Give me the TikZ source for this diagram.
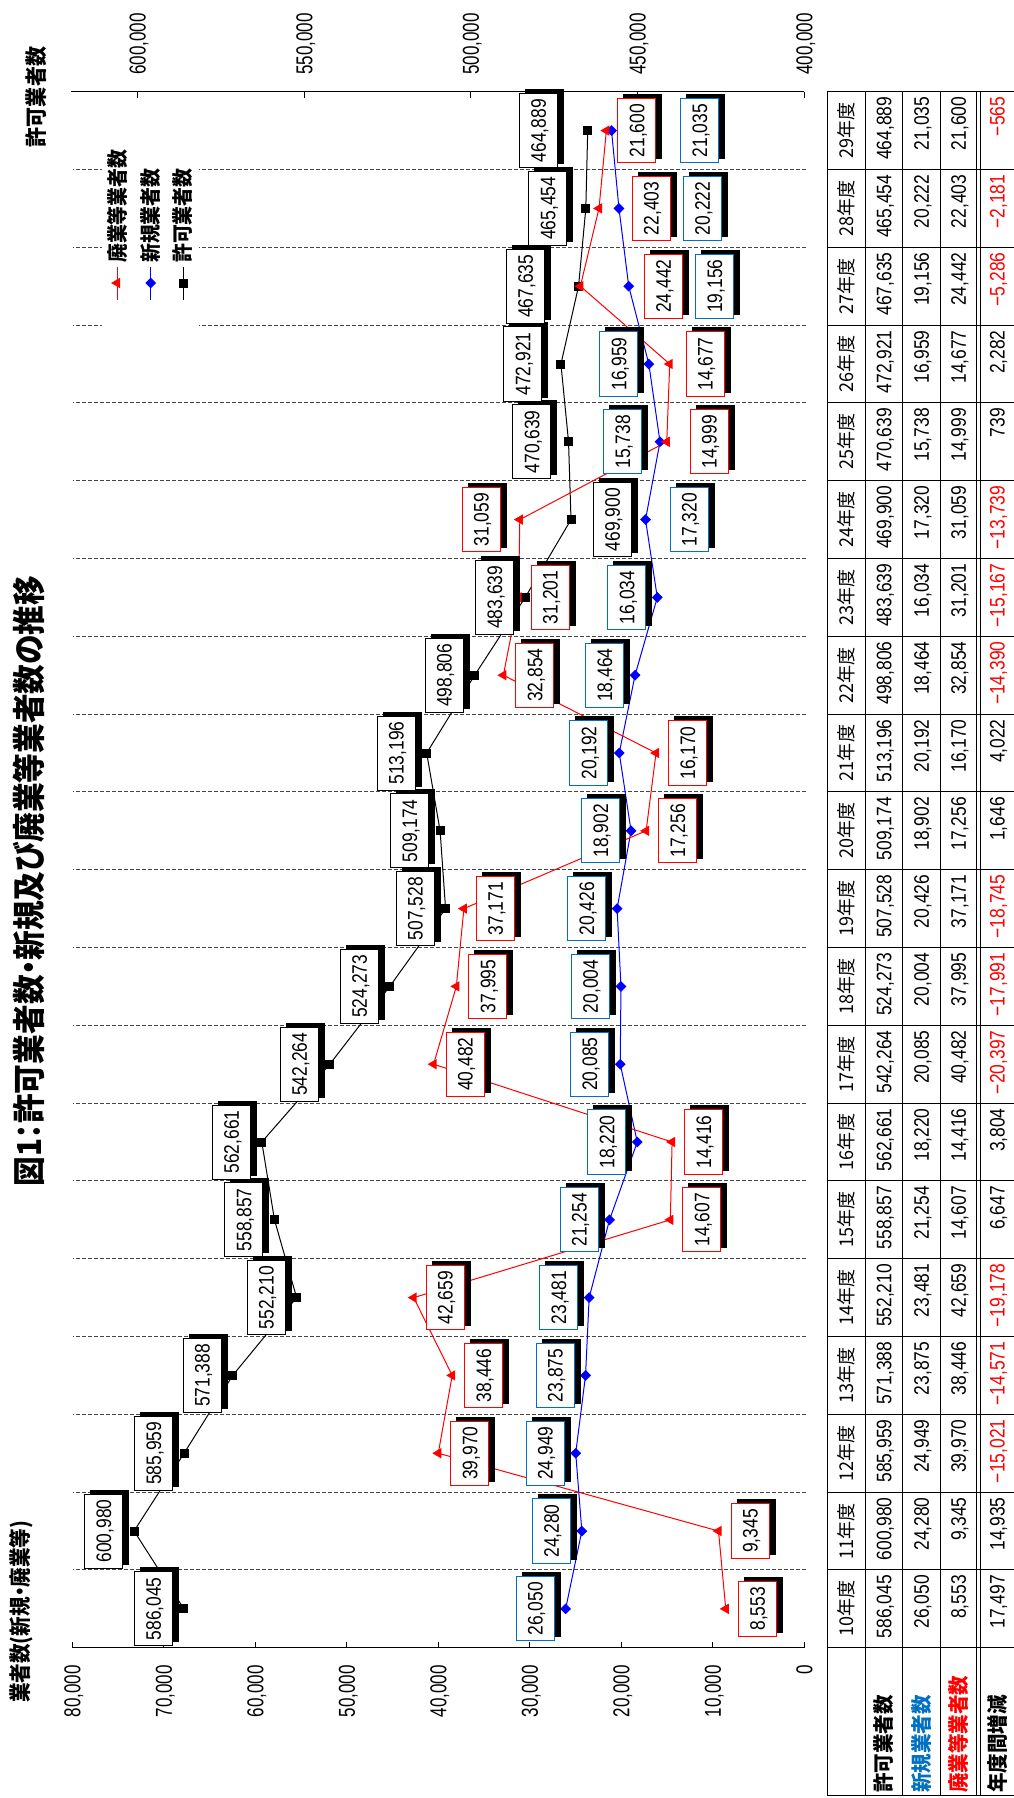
\documentclass[tikz,border=0pt]{standalone}
\usepackage{fontspec}
\usepackage{graphicx}
\setmainfont{Liberation Sans}
\newfontfamily\jp{Noto Sans CJK JP}
\newfontfamily\jpt[RawFeature=+palt]{Noto Sans CJK JP}
\usetikzlibrary{shapes.geometric,calc}
\pgfdeclarelayer{bg}
\pgfdeclarelayer{sh}
\pgfsetlayers{bg,sh,main}
\definecolor{lblue}{RGB}{0,112,192}
\definecolor{gridc}{RGB}{70,70,70}
\newcommand{\sx}[2]{\scalebox{#1}[1]{#2}}
\tikzset{
  lbl/.style={rectangle, fill=white, line width=1pt, minimum height=38pt, inner xsep=5.5pt, inner ysep=0pt, text height=15pt, text depth=0pt, font=\fontsize{21}{21}\selectfont},
  klbl/.style={lbl, draw=black},
  slbl/.style={lbl, draw=lblue},
  hlbl/.style={lbl, draw=red},
  kline/.style={black, line width=1pt},
  sline/.style={blue, line width=1pt},
  hline/.style={red, line width=1pt},
  ksq/.style={rectangle, fill=black, minimum size=9pt, inner sep=0pt},
  sdia/.style={diamond, fill=blue, minimum size=11pt, inner sep=0pt},
  htri/.style={regular polygon, regular polygon sides=3, fill=red, minimum size=12pt, inner sep=0pt},
  gridln/.style={gridc, line width=1pt, dash pattern=on 4pt off 2pt},
  axln/.style={black, line width=1pt},
  ticklab/.style={inner sep=0pt, text height=16.5pt, text depth=0pt, font=\fontsize{23}{23}\selectfont},
  tbl/.style={black, line width=1pt},
  tval/.style={anchor=east, inner sep=0pt, text height=15pt, text depth=0pt, font=\fontsize{21}{21}\selectfont},
  hdr/.style={inner sep=0pt, font=\jp\fontsize{19}{19}\selectfont},
  rowlab/.style={anchor=west, inner sep=0pt, font=\jp\bfseries\fontsize{21}{21}\selectfont},
  leg/.style={anchor=west, inner sep=0pt, font=\jp\bfseries\fontsize{21}{21}\selectfont},
}
\begin{document}
\begin{tikzpicture}[x=1pt,y=1pt]
\useasboundingbox (0,0) rectangle (1014,-1798);
\begin{pgfonlayer}{bg}
\fill[white] (0,0) rectangle (1014,-1798);
\end{pgfonlayer}
\begin{scope}[shift={(1014,-1798)}, rotate=90, transform shape]
% gridlines
\begin{pgfonlayer}{bg}
\foreach \k in {1,...,19} \draw[gridln] ({150.3+77.8*\k},208) -- ({150.3+77.8*\k},941.5);
\end{pgfonlayer}
% axes
\draw[axln] (150.3,210) -- (150.3,941.5);
\draw[axln] (1706.3,210) -- (1706.3,943.3);
\foreach \val/\lab in {0/0,10/{10,000},20/{20,000},30/{30,000},40/{40,000},50/{50,000},60/{60,000},70/{70,000},80/{80,000}}{
  \draw[axln] (150.3,{210+\val*9.15}) -- (156.3,{210+\val*9.15});
  \node[ticklab, anchor=east] (la\val) at (133,{210+\val*9.15}) {\sx{0.74}{\lab}};
}
\foreach \val/\lab in {400/{400,000},450/{450,000},500/{500,000},550/{550,000},600/{600,000}}{
  \draw[axln] (1706.3,{210+(\val-400)*3.33333}) -- (1700.3,{210+(\val-400)*3.33333});
  \node[ticklab, anchor=west] (ra\val) at (1723,{210+(\val-400)*3.33333}) {\sx{0.74}{\lab}};
}
% titles
\node[inner sep=0pt, font=\jpt\bfseries\fontsize{33}{33}\selectfont] (title) at (917,985) {\sx{0.9}{図1：許可業者数・新規及び廃業等業者数の推移}};
\node[inner sep=0pt, anchor=west, font=\jpt\bfseries\fontsize{22}{22}\selectfont] (ltitle) at (95,993) {\sx{0.89}{業者数(新規・廃業等)}};
\node[inner sep=0pt, font=\jp\bfseries\fontsize{22}{22}\selectfont] (rtitle) at (1701,978) {\sx{0.91}{許可業者数}};
% legend
\fill[white] (1460,815) rectangle (1665,912);
\coordinate (lh1) at (1498,897); \coordinate (lh2) at (1531,897);
\coordinate (ls1) at (1498,863.3); \coordinate (ls2) at (1531,863.3);
\coordinate (lk1) at (1498,831); \coordinate (lk2) at (1531,831);
\draw[hline] (lh1) -- (lh2); \node[htri] (lgh) at (1515,897) {};
\draw[sline] (ls1) -- (ls2); \node[sdia] (lgs) at (1515,863.3) {};
\draw[kline] (lk1) -- (lk2); \node[ksq] (lgk) at (1515,831) {};
\node[leg] (lth) at (1535,897) {\sx{0.9}{廃業等業者数}};
\node[leg] (lts) at (1535,863.3) {\sx{0.9}{新規業者数}};
\node[leg] (ltk) at (1535,831) {\sx{0.9}{許可業者数}};
% table
\draw[tbl] (3,-2) -- (3,186.7) -- (1706.3,186.7) -- (1706.3,-2);
\foreach \qq in {149,111.3,74,37.5,34} \draw[tbl] (3,\qq) -- (1706.3,\qq);
\foreach \k in {0,...,19} \draw[tbl] ({150.3+77.8*\k},-2) -- ({150.3+77.8*\k},186.7);
\foreach \i in {0,...,19}{
  \pgfmathtruncatemacro{\yr}{\i+10}
  \node[hdr] (yh\i) at ({189.2+77.8*\i},167.8) {\sx{0.95}{\yr 年度}};
}
\node[rowlab] (r1) at (5,130.1) {\sx{0.93}{許可業者数}};
\node[rowlab, text=lblue] (r2) at (5,92.7) {\sx{0.93}{新規業者数}};
\node[rowlab, text=red] (r3) at (5,55.7) {\sx{0.93}{廃業等業者数}};
\node[rowlab] (r4) at (5,17) {\sx{0.93}{年度間増減}};
% series: licensed (black)
\foreach \val/\lab/\off [count=\i from 0] in {586.045/{586,045}/30.5, 600.980/{600,980}/30.5, 585.959/{585,959}/30.5, 571.388/{571,388}/30.5, 552.210/{552,210}/30.5, 558.857/{558,857}/30.5, 562.661/{562,661}/30.5, 542.264/{542,264}/30.5, 524.273/{524,273}/30.5, 507.528/{507,528}/30.5, 509.174/{509,174}/30.5, 513.196/{513,196}/30.5, 498.806/{498,806}/30.5, 483.639/{483,639}/30.5, 469.900/{469,900}/-41.4, 470.639/{470,639}/36.6, 472.921/{472,921}/38, 467.635/{467,635}/53.3, 465.454/{465,454}/38, 464.889/{464,889}/49.4}{
  \coordinate (k\i) at ({189.2+77.8*\i},{210+(\val-400)*3.33333});
  \node[klbl] (kl\i) at ({189.2+77.8*\i},{210+(\val-400)*3.33333+(\off)}) {\sx{0.83}{\lab}};
  \node[tval] (tk\i) at ({223.1+77.8*\i},130.1) {\sx{0.83}{\lab}};
}
% new (blue)
\foreach \val/\lab/\off [count=\i from 0] in {26.050/{26,050}/30.5, 24.280/{24,280}/30.5, 24.949/{24,949}/30.5, 23.875/{23,875}/30.5, 23.481/{23,481}/30.5, 21.254/{21,254}/30.5, 18.220/{18,220}/30.5, 20.085/{20,085}/30.5, 20.004/{20,004}/30.5, 20.426/{20,426}/30.5, 18.902/{18,902}/30.5, 20.192/{20,192}/30.5, 18.464/{18,464}/30.5, 16.034/{16,034}/30.5, 17.320/{17,320}/-43.5, 15.738/{15,738}/37.5, 16.959/{16,959}/30, 19.156/{19,156}/-86, 20.222/{20,222}/-83.4, 21.035/{21,035}/-88}{
  \coordinate (s\i) at ({189.2+77.8*\i},{210+\val*9.15});
  \node[slbl] (sl\i) at ({189.2+77.8*\i},{210+\val*9.15+(\off)}) {\sx{0.83}{\lab}};
  \node[tval] (ts\i) at ({223.1+77.8*\i},92.7) {\sx{0.83}{\lab}};
}
% closed (red)
\foreach \val/\lab/\off [count=\i from 0] in {8.553/{8,553}/-31.5, 9.345/{9,345}/-31.5, 39.970/{39,970}/-31.5, 38.446/{38,446}/-31.5, 42.659/{42,659}/-31.5, 14.607/{14,607}/-31.5, 14.416/{14,416}/-31.5, 40.482/{40,482}/-31.5, 37.995/{37,995}/-31.5, 37.171/{37,171}/-31.5, 17.256/{17,256}/-31.5, 16.170/{16,170}/-31.5, 32.854/{32,854}/-31.5, 31.201/{31,201}/-31.5, 31.059/{31,059}/38.7, 14.999/{14,999}/-42.3, 14.677/{14,677}/-35.5, 24.442/{24,442}/-83, 22.403/{22,403}/-52, 21.600/{21,600}/-30.5}{
  \coordinate (h\i) at ({189.2+77.8*\i},{210+\val*9.15});
  \node[hlbl] (hl\i) at ({189.2+77.8*\i},{210+\val*9.15+(\off)}) {\sx{0.83}{\lab}};
  \node[tval] (th\i) at ({223.1+77.8*\i},55.7) {\sx{0.83}{\lab}};
}
% year-to-year change
\foreach \c/\lab [count=\i from 0] in {black/{17,497}, black/{14,935}, red/{−15,021}, red/{−14,571}, red/{−19,178}, black/{6,647}, black/{3,804}, red/{−20,397}, red/{−17,991}, red/{−18,745}, black/{1,646}, black/{4,022}, red/{−14,390}, red/{−15,167}, red/{−13,739}, black/{739}, black/{2,282}, red/{−5,286}, red/{−2,181}, red/{−565}}{
  \node[tval, text=\c] (td\i) at ({223.1+77.8*\i},17) {\sx{0.83}{\lab}};
}
% lines and markers
\begin{pgfonlayer}{bg}
\draw[kline] (k0) \foreach \i in {1,...,19}{ -- (k\i)};
\draw[sline] (s0) \foreach \i in {1,...,19}{ -- (s\i)};
\draw[hline] (h0) \foreach \i in {1,...,19}{ -- (h\i)};
\foreach \i in {0,...,19}{
  \node[ksq] (km\i) at (k\i) {};
  \node[sdia] (sm\i) at (s\i) {};
  \node[htri] (hm\i) at (h\i) {};
}
\end{pgfonlayer}
\end{scope}
% label shadows
\begin{pgfonlayer}{sh}
\foreach \s in {k,s,h}{
  \foreach \i in {0,...,19}{
    \fill[black] ($(\s l\i.south west)+(6,4)$) rectangle ($(\s l\i.north east)+(6,4)$);
  }
}
\end{pgfonlayer}
\end{tikzpicture}
\end{document}
